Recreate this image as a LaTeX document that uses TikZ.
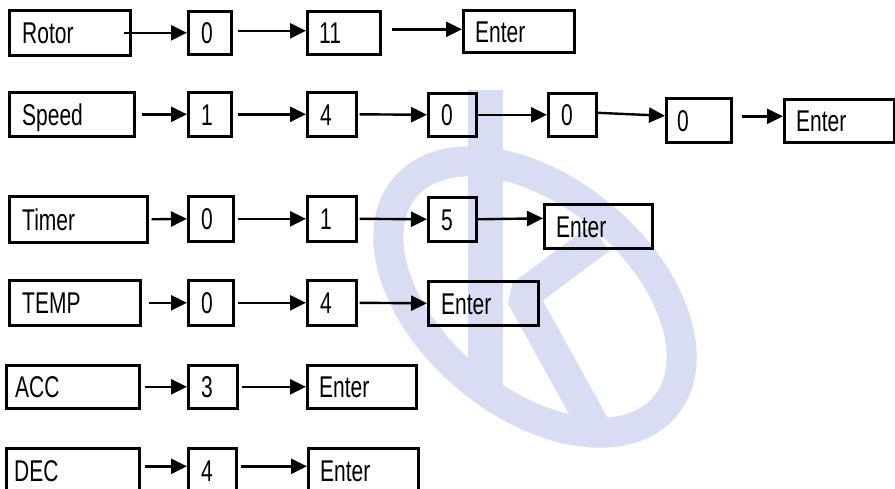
\documentclass[tikz,border=0pt]{standalone}
\usepackage{fontspec}
\setmainfont[FakeStretch=0.70]{Liberation Sans}
\usetikzlibrary{arrows.meta}
\definecolor{wmblue}{RGB}{216,221,243}
\newcommand\bx[7]{%
  \node[bx, minimum width=#4pt, minimum height=#5pt, anchor=north west] (#1) at (#2,#3) {};
  \node[lbl] (#1t) at ([xshift=#6pt, yshift=-11pt]#1.west) {#7};}
\begin{document}
\begin{tikzpicture}[x=1pt,y=-1pt,
  bx/.style={draw=black, line width=2.6pt, inner sep=0pt, rectangle},
  lbl/.style={inner sep=0pt, anchor=base west, font=\fontsize{30}{34}\selectfont},
  arr/.style={line width=2.4pt, -{Triangle[length=16pt,width=15pt]}}]
\useasboundingbox (0,0) rectangle (895,488);
\clip (0,0) rectangle (895,488);
\fill[white] (0,0) rectangle (895,488);
% watermark
\fill[wmblue] (468,90) rectangle (503,395);
\begin{scope}[shift={(535,297)}, rotate=-40]
  \draw[wmblue, line width=30pt] (0,0) ellipse [x radius=170, y radius=105];
\end{scope}
\draw[wmblue, line width=32pt, line join=bevel] (600,238) -- (522,296) -- (595,428);
% row 1
\bx{rA}{8}{9}{121}{45}{14}{Rotor}
\bx{r1}{187}{10}{43}{43}{14}{0}
\bx{r2}{306}{10}{73}{43}{13}{11}
\bx{r3}{462}{9}{111}{42}{13}{Enter}
\draw[arr] ([xshift=-8pt]rA.east) -- (r1.west);
\draw[arr] ([xshift=5pt,yshift=2pt]r1.east) -- ([yshift=2pt]r2.west);
\draw[arr] ([xshift=10pt,yshift=3.5pt]r2.east) -- ([yshift=2pt]r3.west);
% row 2
\bx{sA}{8}{91}{125}{44}{14}{Speed}
\bx{s1}{187}{91}{43}{44}{14}{1}
\bx{s2}{306}{91}{49}{44}{14}{4}
\bx{s3}{427}{92}{48}{43}{14}{0}
\bx{s4}{547}{92}{48}{43}{14}{0}
\bx{s5}{665}{97}{65}{44}{12}{0}
\bx{s6}{783}{98}{110}{43}{13}{Enter}
\draw[arr] ([xshift=6pt]sA.east) -- (s1.west);
\draw[arr] ([xshift=5pt]s1.east) -- (s2.west);
\draw[arr] ([xshift=2pt]s2.east) -- (s3.west);
\draw[arr] (s3.east) -- (s4.west);
\draw[arr] ([yshift=2pt]s4.east) -- ([yshift=4.5pt]s5.west);
\draw[arr] ([xshift=9pt,yshift=4pt]s5.east) -- ([yshift=4.5pt]s6.west);
% row 3
\bx{tA}{8}{195}{138}{46}{14}{Timer}
\bx{t1}{187}{195}{45}{45}{14}{0}
\bx{t2}{306}{195}{49}{45}{14}{1}
\bx{t3}{427}{196}{48}{44}{14}{5}
\bx{t4}{543}{203}{108}{44}{13}{Enter}
\draw[arr] ([xshift=3pt]tA.east) -- (t1.west);
\draw[arr] ([xshift=3pt]t1.east) -- (t2.west);
\draw[arr] ([xshift=2pt]t2.east) -- (t3.west);
\draw[arr] (t3.east) -- ([yshift=8pt]t4.west);
% row 4
\bx{pA}{8}{279}{131}{45}{14}{TEMP}
\bx{p1}{187}{279}{45}{45}{14}{0}
\bx{p2}{306}{279}{49}{45}{14}{4}
\bx{p3}{427}{280}{110}{44}{14}{Enter}
\draw[arr] ([xshift=7pt]pA.east) -- (p1.west);
\draw[arr] ([xshift=3pt]p1.east) -- (p2.west);
\draw[arr] ([xshift=2pt]p2.east) -- (p3.west);
% row 5
\bx{aA}{5}{364}{133}{43}{10}{ACC}
\bx{a1}{187}{364}{49}{43}{14}{3}
\bx{a2}{306}{364}{109}{43}{13}{Enter}
\draw[arr] ([xshift=4pt]aA.east) -- (a1.west);
\draw[arr] ([xshift=3pt]a1.east) -- (a2.west);
% row 6
\bx{dA}{5}{447}{133}{44}{9}{DEC}
\bx{d1}{187}{447}{48}{44}{14}{4}
\bx{d2}{307}{447}{110}{44}{13}{Enter}
\draw[arr] ([xshift=4pt,yshift=4pt]dA.east) -- ([yshift=4pt]d1.west);
\draw[arr] ([xshift=3pt,yshift=4pt]d1.east) -- ([yshift=4pt]d2.west);
\end{tikzpicture}
\end{document}
